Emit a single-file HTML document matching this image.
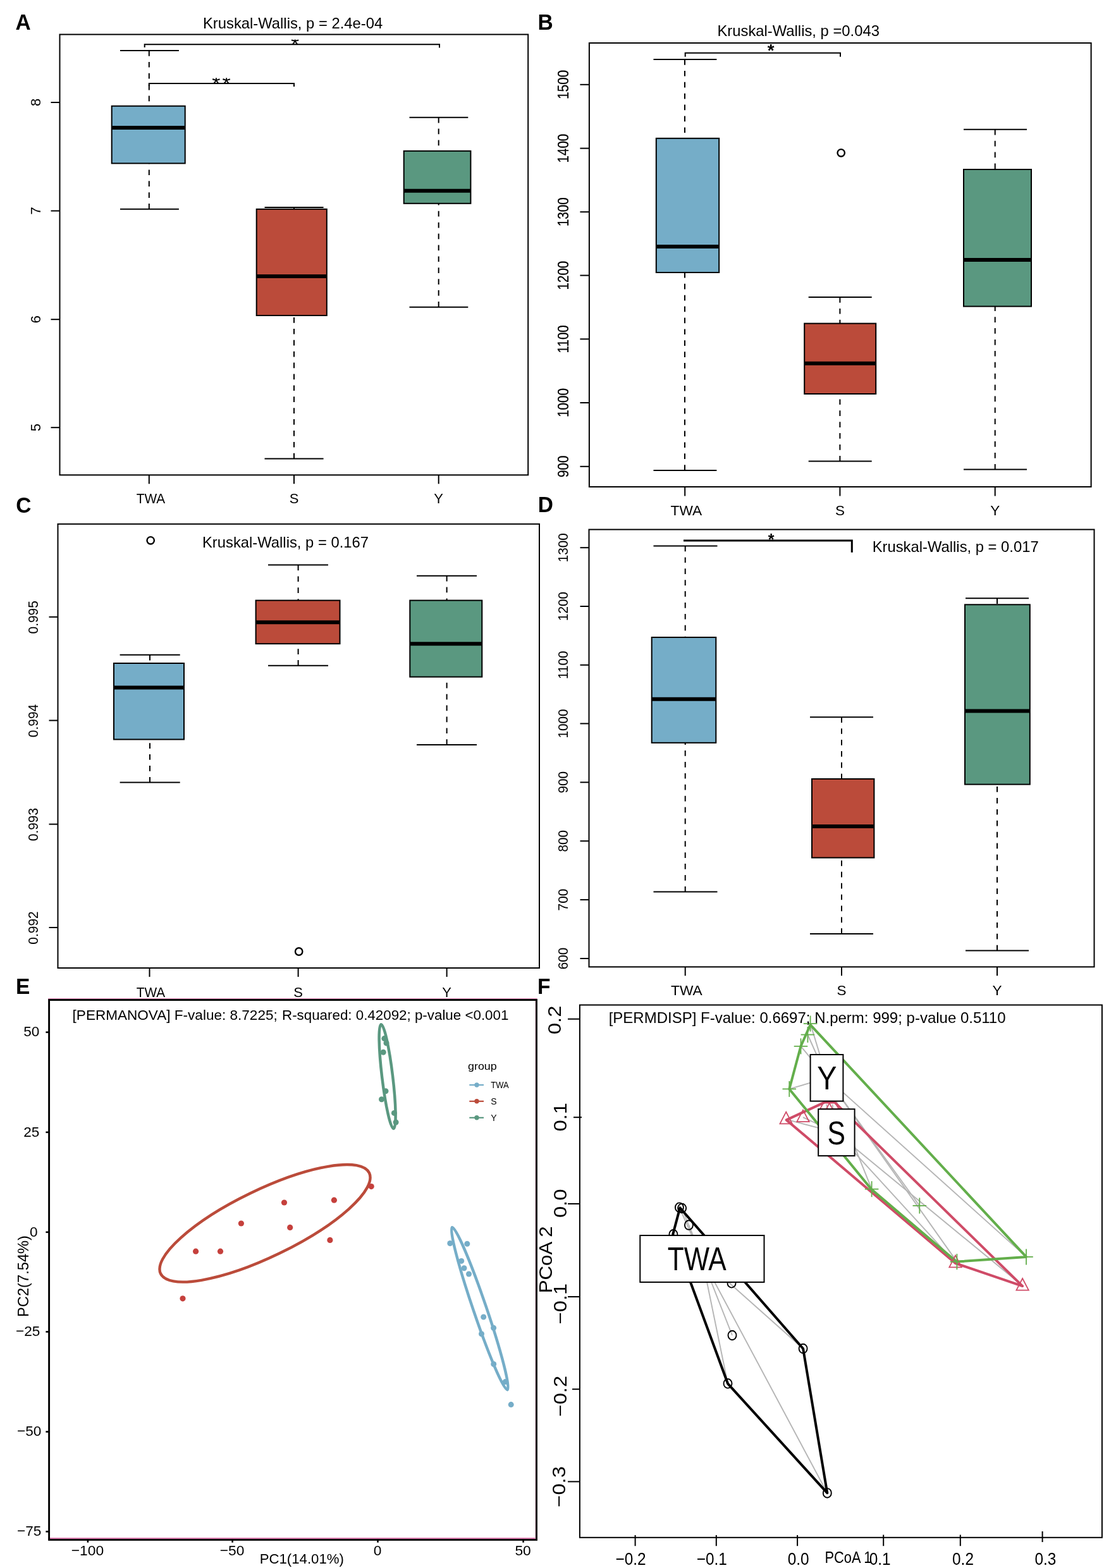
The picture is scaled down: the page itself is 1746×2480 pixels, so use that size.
<!DOCTYPE html>
<html lang="en"><head><meta charset="utf-8"><title>Figure: alpha and beta diversity</title>
<style>
html,body{margin:0;padding:0;background:#fff;}
body{width:1746px;height:2480px;overflow:hidden;}
svg{display:block;font-family:"Liberation Sans", Arial, Helvetica, sans-serif;}
text{font-kerning:normal;}
</style></head><body>
<svg width="1746" height="2480" viewBox="0 0 1746 2480">
<rect x="0" y="0" width="1746" height="2480" fill="#ffffff"/>
<rect x="94.5" y="54.5" width="740.7" height="696.8" fill="none" stroke="#000" stroke-width="2" />
<line x1="80.5" y1="162" x2="94.5" y2="162" stroke="#000" stroke-width="2" />
<text transform="translate(64 162) rotate(-90) scale(0.97 1)" font-size="22.7" text-anchor="middle" font-weight="normal" fill="#000" >8</text>
<line x1="80.5" y1="333.5" x2="94.5" y2="333.5" stroke="#000" stroke-width="2" />
<text transform="translate(64 333.5) rotate(-90) scale(0.97 1)" font-size="22.7" text-anchor="middle" font-weight="normal" fill="#000" >7</text>
<line x1="80.5" y1="505.2" x2="94.5" y2="505.2" stroke="#000" stroke-width="2" />
<text transform="translate(64 505.2) rotate(-90) scale(0.97 1)" font-size="22.7" text-anchor="middle" font-weight="normal" fill="#000" >6</text>
<line x1="80.5" y1="676.2" x2="94.5" y2="676.2" stroke="#000" stroke-width="2" />
<text transform="translate(64 676.2) rotate(-90) scale(0.97 1)" font-size="22.7" text-anchor="middle" font-weight="normal" fill="#000" >5</text>
<line x1="235.8" y1="751.3" x2="235.8" y2="765.3" stroke="#000" stroke-width="2" />
<text transform="translate(238.4 796) scale(0.947 1)" font-size="22" text-anchor="middle" font-weight="normal" fill="#000" >TWA</text>
<line x1="465" y1="751.3" x2="465" y2="765.3" stroke="#000" stroke-width="2" />
<text x="465" y="796" font-size="22" text-anchor="middle" font-weight="normal" fill="#000" >S</text>
<line x1="693.7" y1="751.3" x2="693.7" y2="765.3" stroke="#000" stroke-width="2" />
<text x="693.7" y="796" font-size="22" text-anchor="middle" font-weight="normal" fill="#000" >Y</text>
<text x="321" y="44.8" font-size="23.8" text-anchor="start" font-weight="normal" fill="#000" >Kruskal-Wallis, p = 2.4e-04</text>
<line x1="235.8" y1="80" x2="235.8" y2="167.7" stroke="#000" stroke-width="2" stroke-dasharray="8.7 9.2"/>
<line x1="235.8" y1="330.8" x2="235.8" y2="258.4" stroke="#000" stroke-width="2" stroke-dasharray="8.7 9.2"/>
<line x1="190" y1="80" x2="282.9" y2="80" stroke="#000" stroke-width="2" />
<line x1="190" y1="330.8" x2="282.9" y2="330.8" stroke="#000" stroke-width="2" />
<rect x="176.7" y="167.7" width="116.0" height="90.7" fill="#75adc8" stroke="#000" stroke-width="2" />
<line x1="176.7" y1="202" x2="292.7" y2="202" stroke="#000" stroke-width="6" />
<line x1="465" y1="328" x2="465" y2="330.8" stroke="#000" stroke-width="2" stroke-dasharray="8.7 9.2"/>
<line x1="465" y1="725.5" x2="465" y2="499" stroke="#000" stroke-width="2" stroke-dasharray="8.7 9.2"/>
<line x1="418.5" y1="328" x2="511.6" y2="328" stroke="#000" stroke-width="2" />
<line x1="418.5" y1="725.5" x2="511.6" y2="725.5" stroke="#000" stroke-width="2" />
<rect x="405.7" y="330.8" width="111.1" height="168.2" fill="#bb4b3a" stroke="#000" stroke-width="2" />
<line x1="405.7" y1="436.9" x2="516.8" y2="436.9" stroke="#000" stroke-width="6" />
<line x1="693.7" y1="185.7" x2="693.7" y2="238.8" stroke="#000" stroke-width="2" stroke-dasharray="8.7 9.2"/>
<line x1="693.7" y1="485.7" x2="693.7" y2="321.8" stroke="#000" stroke-width="2" stroke-dasharray="8.7 9.2"/>
<line x1="647.5" y1="185.7" x2="740.3" y2="185.7" stroke="#000" stroke-width="2" />
<line x1="647.5" y1="485.7" x2="740.3" y2="485.7" stroke="#000" stroke-width="2" />
<rect x="638.7" y="238.8" width="105.7" height="83.0" fill="#5a9880" stroke="#000" stroke-width="2" />
<line x1="638.7" y1="301.7" x2="744.4" y2="301.7" stroke="#000" stroke-width="6" />
<polyline points="228.7,75 228.7,70.2 695,70.2 695,75.5" fill="none" stroke="#000" stroke-width="2"/>
<polyline points="235.8,136 235.8,132 465,132 465,137" fill="none" stroke="#000" stroke-width="2"/>
<clipPath id="c36"><rect x="406.5" y="62.6" width="120" height="8.6"/></clipPath>
<g clip-path="url(#c36)">
<text x="466.5" y="82.26" font-size="34" text-anchor="middle" font-weight="normal" fill="#000" >*</text>
</g>
<clipPath id="c40"><rect x="290.0" y="123.2" width="120" height="9.8"/></clipPath>
<g clip-path="url(#c40)">
<text x="351.4" y="144.06" font-size="34" text-anchor="middle" font-weight="normal" fill="#000" letter-spacing="2.8">**</text>
</g>
<rect x="931.9" y="68" width="793.7" height="702" fill="none" stroke="#000" stroke-width="2" />
<line x1="917.4" y1="133.8" x2="931.9" y2="133.8" stroke="#000" stroke-width="2" />
<text transform="translate(899 133.8) rotate(-90) scale(0.85 1)" font-size="24.2" text-anchor="middle" font-weight="normal" fill="#000" stroke="#000" stroke-width="0.25">1500</text>
<line x1="917.4" y1="234.6" x2="931.9" y2="234.6" stroke="#000" stroke-width="2" />
<text transform="translate(899 234.6) rotate(-90) scale(0.85 1)" font-size="24.2" text-anchor="middle" font-weight="normal" fill="#000" stroke="#000" stroke-width="0.25">1400</text>
<line x1="917.4" y1="335.2" x2="931.9" y2="335.2" stroke="#000" stroke-width="2" />
<text transform="translate(899 335.2) rotate(-90) scale(0.85 1)" font-size="24.2" text-anchor="middle" font-weight="normal" fill="#000" stroke="#000" stroke-width="0.25">1300</text>
<line x1="917.4" y1="435.6" x2="931.9" y2="435.6" stroke="#000" stroke-width="2" />
<text transform="translate(899 435.6) rotate(-90) scale(0.85 1)" font-size="24.2" text-anchor="middle" font-weight="normal" fill="#000" stroke="#000" stroke-width="0.25">1200</text>
<line x1="917.4" y1="536.3" x2="931.9" y2="536.3" stroke="#000" stroke-width="2" />
<text transform="translate(899 536.3) rotate(-90) scale(0.85 1)" font-size="24.2" text-anchor="middle" font-weight="normal" fill="#000" stroke="#000" stroke-width="0.25">1100</text>
<line x1="917.4" y1="637" x2="931.9" y2="637" stroke="#000" stroke-width="2" />
<text transform="translate(899 637) rotate(-90) scale(0.85 1)" font-size="24.2" text-anchor="middle" font-weight="normal" fill="#000" stroke="#000" stroke-width="0.25">1000</text>
<line x1="917.4" y1="737.8" x2="931.9" y2="737.8" stroke="#000" stroke-width="2" />
<text transform="translate(899 737.8) rotate(-90) scale(0.85 1)" font-size="24.2" text-anchor="middle" font-weight="normal" fill="#000" stroke="#000" stroke-width="0.25">900</text>
<line x1="1083.2" y1="770" x2="1083.2" y2="784.5" stroke="#000" stroke-width="2" />
<text transform="translate(1085.4 815) scale(1.01 1)" font-size="22.5" text-anchor="middle" font-weight="normal" fill="#000" >TWA</text>
<line x1="1328.4" y1="770" x2="1328.4" y2="784.5" stroke="#000" stroke-width="2" />
<text x="1328.4" y="815" font-size="22.5" text-anchor="middle" font-weight="normal" fill="#000" >S</text>
<line x1="1573.7" y1="770" x2="1573.7" y2="784.5" stroke="#000" stroke-width="2" />
<text x="1573.7" y="815" font-size="22.5" text-anchor="middle" font-weight="normal" fill="#000" >Y</text>
<text x="1134.5" y="56.7" font-size="23.8" text-anchor="start" font-weight="normal" fill="#000" >Kruskal-Wallis, p =0.043</text>
<line x1="1083" y1="94" x2="1083" y2="218.8" stroke="#000" stroke-width="2" stroke-dasharray="8.7 9.2"/>
<line x1="1083" y1="743.9" x2="1083" y2="431" stroke="#000" stroke-width="2" stroke-dasharray="8.7 9.2"/>
<line x1="1033.5" y1="94" x2="1133.4" y2="94" stroke="#000" stroke-width="2" />
<line x1="1033.5" y1="743.9" x2="1133.4" y2="743.9" stroke="#000" stroke-width="2" />
<rect x="1037.8" y="218.8" width="99.4" height="212.2" fill="#75adc8" stroke="#000" stroke-width="2" />
<line x1="1037.8" y1="390" x2="1137.2" y2="390" stroke="#000" stroke-width="6" />
<line x1="1328.4" y1="470" x2="1328.4" y2="511.6" stroke="#000" stroke-width="2" stroke-dasharray="8.7 9.2"/>
<line x1="1328.4" y1="729.6" x2="1328.4" y2="623" stroke="#000" stroke-width="2" stroke-dasharray="8.7 9.2"/>
<line x1="1278.7" y1="470" x2="1378.7" y2="470" stroke="#000" stroke-width="2" />
<line x1="1278.7" y1="729.6" x2="1378.7" y2="729.6" stroke="#000" stroke-width="2" />
<rect x="1272.2" y="511.6" width="113.0" height="111.4" fill="#bb4b3a" stroke="#000" stroke-width="2" />
<line x1="1272.2" y1="574.8" x2="1385.2" y2="574.8" stroke="#000" stroke-width="6" />
<line x1="1573.7" y1="204.8" x2="1573.7" y2="268" stroke="#000" stroke-width="2" stroke-dasharray="8.7 9.2"/>
<line x1="1573.7" y1="742.6" x2="1573.7" y2="484.6" stroke="#000" stroke-width="2" stroke-dasharray="8.7 9.2"/>
<line x1="1524" y1="204.8" x2="1624" y2="204.8" stroke="#000" stroke-width="2" />
<line x1="1524" y1="742.6" x2="1624" y2="742.6" stroke="#000" stroke-width="2" />
<rect x="1524" y="268" width="107" height="216.6" fill="#5a9880" stroke="#000" stroke-width="2" />
<line x1="1524" y1="411" x2="1631" y2="411" stroke="#000" stroke-width="6" />
<circle cx="1330.2" cy="241.8" r="5.7" fill="none" stroke="#000" stroke-width="2.4"/>
<polyline points="1083.7,89.7 1083.7,83.7 1329,83.7 1329,89.7" fill="none" stroke="#000" stroke-width="2"/>
<text x="1219.1" y="89.4" font-size="27.6" text-anchor="middle" font-weight="bold" fill="#000" >*</text>
<rect x="91.5" y="828.8" width="761.5" height="702.2" fill="none" stroke="#000" stroke-width="2" />
<line x1="77.5" y1="975.8" x2="91.5" y2="975.8" stroke="#000" stroke-width="2" />
<text transform="translate(59.8 976.3) rotate(-90) scale(0.925 1)" font-size="22.6" text-anchor="middle" font-weight="normal" fill="#000" >0.995</text>
<line x1="77.5" y1="1139.5" x2="91.5" y2="1139.5" stroke="#000" stroke-width="2" />
<text transform="translate(59.8 1140.0) rotate(-90) scale(0.925 1)" font-size="22.6" text-anchor="middle" font-weight="normal" fill="#000" >0.994</text>
<line x1="77.5" y1="1303.6" x2="91.5" y2="1303.6" stroke="#000" stroke-width="2" />
<text transform="translate(59.8 1304.1) rotate(-90) scale(0.925 1)" font-size="22.6" text-anchor="middle" font-weight="normal" fill="#000" >0.993</text>
<line x1="77.5" y1="1467.0" x2="91.5" y2="1467.0" stroke="#000" stroke-width="2" />
<text transform="translate(59.8 1467.5) rotate(-90) scale(0.925 1)" font-size="22.6" text-anchor="middle" font-weight="normal" fill="#000" >0.992</text>
<line x1="236.5" y1="1531" x2="236.5" y2="1545" stroke="#000" stroke-width="2" />
<text transform="translate(238.5 1577) scale(0.947 1)" font-size="22" text-anchor="middle" font-weight="normal" fill="#000" >TWA</text>
<line x1="471.6" y1="1531" x2="471.6" y2="1545" stroke="#000" stroke-width="2" />
<text x="471.6" y="1577" font-size="22" text-anchor="middle" font-weight="normal" fill="#000" >S</text>
<line x1="706.6" y1="1531" x2="706.6" y2="1545" stroke="#000" stroke-width="2" />
<text x="706.6" y="1577" font-size="22" text-anchor="middle" font-weight="normal" fill="#000" >Y</text>
<text x="320" y="866.4" font-size="23.8" text-anchor="start" font-weight="normal" fill="#000" >Kruskal-Wallis, p = 0.167</text>
<line x1="237" y1="1035.8" x2="237" y2="1049" stroke="#000" stroke-width="2" stroke-dasharray="8.7 9.2"/>
<line x1="237" y1="1237.6" x2="237" y2="1169.5" stroke="#000" stroke-width="2" stroke-dasharray="8.7 9.2"/>
<line x1="189.6" y1="1035.8" x2="284.7" y2="1035.8" stroke="#000" stroke-width="2" />
<line x1="189.6" y1="1237.6" x2="284.7" y2="1237.6" stroke="#000" stroke-width="2" />
<rect x="180" y="1049" width="111" height="120.5" fill="#75adc8" stroke="#000" stroke-width="2" />
<line x1="180" y1="1087.6" x2="291" y2="1087.6" stroke="#000" stroke-width="6" />
<line x1="471.6" y1="893.5" x2="471.6" y2="949.6" stroke="#000" stroke-width="2" stroke-dasharray="8.7 9.2"/>
<line x1="471.6" y1="1052.8" x2="471.6" y2="1018.2" stroke="#000" stroke-width="2" stroke-dasharray="8.7 9.2"/>
<line x1="424" y1="893.5" x2="519" y2="893.5" stroke="#000" stroke-width="2" />
<line x1="424" y1="1052.8" x2="519" y2="1052.8" stroke="#000" stroke-width="2" />
<rect x="404.6" y="949.6" width="132.9" height="68.6" fill="#bb4b3a" stroke="#000" stroke-width="2" />
<line x1="404.6" y1="984.2" x2="537.5" y2="984.2" stroke="#000" stroke-width="6" />
<line x1="706.6" y1="910.7" x2="706.6" y2="949.6" stroke="#000" stroke-width="2" stroke-dasharray="8.7 9.2"/>
<line x1="706.6" y1="1178" x2="706.6" y2="1070.6" stroke="#000" stroke-width="2" stroke-dasharray="8.7 9.2"/>
<line x1="659" y1="910.7" x2="754" y2="910.7" stroke="#000" stroke-width="2" />
<line x1="659" y1="1178" x2="754" y2="1178" stroke="#000" stroke-width="2" />
<rect x="648.3" y="949.6" width="114.0" height="121.0" fill="#5a9880" stroke="#000" stroke-width="2" />
<line x1="648.3" y1="1018.2" x2="762.3" y2="1018.2" stroke="#000" stroke-width="6" />
<circle cx="238.2" cy="854.8" r="5.7" fill="none" stroke="#000" stroke-width="2.4"/>
<circle cx="472.7" cy="1505" r="5.7" fill="none" stroke="#000" stroke-width="2.4"/>
<rect x="931.5" y="837.5" width="799.0" height="691.8" fill="none" stroke="#000" stroke-width="2" />
<line x1="917.5" y1="866.2" x2="931.5" y2="866.2" stroke="#000" stroke-width="2" />
<text transform="translate(898.4 866.2) rotate(-90) scale(0.917 1)" font-size="22.6" text-anchor="middle" font-weight="normal" fill="#000" >1300</text>
<line x1="917.5" y1="958.99" x2="931.5" y2="958.99" stroke="#000" stroke-width="2" />
<text transform="translate(898.4 958.99) rotate(-90) scale(0.917 1)" font-size="22.6" text-anchor="middle" font-weight="normal" fill="#000" >1200</text>
<line x1="917.5" y1="1051.77" x2="931.5" y2="1051.77" stroke="#000" stroke-width="2" />
<text transform="translate(898.4 1051.77) rotate(-90) scale(0.917 1)" font-size="22.6" text-anchor="middle" font-weight="normal" fill="#000" >1100</text>
<line x1="917.5" y1="1144.45" x2="931.5" y2="1144.45" stroke="#000" stroke-width="2" />
<text transform="translate(898.4 1144.45) rotate(-90) scale(0.917 1)" font-size="22.6" text-anchor="middle" font-weight="normal" fill="#000" >1000</text>
<line x1="917.5" y1="1237.33" x2="931.5" y2="1237.33" stroke="#000" stroke-width="2" />
<text transform="translate(898.4 1237.33) rotate(-90) scale(0.917 1)" font-size="22.6" text-anchor="middle" font-weight="normal" fill="#000" >900</text>
<line x1="917.5" y1="1330.22" x2="931.5" y2="1330.22" stroke="#000" stroke-width="2" />
<text transform="translate(898.4 1330.22) rotate(-90) scale(0.917 1)" font-size="22.6" text-anchor="middle" font-weight="normal" fill="#000" >800</text>
<line x1="917.5" y1="1423.1" x2="931.5" y2="1423.1" stroke="#000" stroke-width="2" />
<text transform="translate(898.4 1423.1) rotate(-90) scale(0.917 1)" font-size="22.6" text-anchor="middle" font-weight="normal" fill="#000" >700</text>
<line x1="917.5" y1="1516.0" x2="931.5" y2="1516.0" stroke="#000" stroke-width="2" />
<text transform="translate(898.4 1516.0) rotate(-90) scale(0.917 1)" font-size="22.6" text-anchor="middle" font-weight="normal" fill="#000" >600</text>
<line x1="1083.7" y1="1529.3" x2="1083.7" y2="1543.3" stroke="#000" stroke-width="2" />
<text transform="translate(1085.9 1574) scale(1.01 1)" font-size="22.5" text-anchor="middle" font-weight="normal" fill="#000" >TWA</text>
<line x1="1331" y1="1529.3" x2="1331" y2="1543.3" stroke="#000" stroke-width="2" />
<text x="1331" y="1574" font-size="22.5" text-anchor="middle" font-weight="normal" fill="#000" >S</text>
<line x1="1577" y1="1529.3" x2="1577" y2="1543.3" stroke="#000" stroke-width="2" />
<text x="1577" y="1574" font-size="22.5" text-anchor="middle" font-weight="normal" fill="#000" >Y</text>
<text x="1379.7" y="873.1" font-size="23.8" text-anchor="start" font-weight="normal" fill="#000" >Kruskal-Wallis, p = 0.017</text>
<line x1="1083.7" y1="863.5" x2="1083.7" y2="1008.03" stroke="#000" stroke-width="2" stroke-dasharray="8.7 9.2"/>
<line x1="1083.7" y1="1410.61" x2="1083.7" y2="1174.81" stroke="#000" stroke-width="2" stroke-dasharray="8.7 9.2"/>
<line x1="1033.5" y1="863.5" x2="1134.5" y2="863.5" stroke="#000" stroke-width="2" />
<line x1="1033.5" y1="1410.61" x2="1134.5" y2="1410.61" stroke="#000" stroke-width="2" />
<rect x="1030.7" y="1008.03" width="101.6" height="166.78" fill="#75adc8" stroke="#000" stroke-width="2" />
<line x1="1030.7" y1="1105.7" x2="1132.3" y2="1105.7" stroke="#000" stroke-width="6" />
<line x1="1331" y1="1134.27" x2="1331" y2="1231.94" stroke="#000" stroke-width="2" stroke-dasharray="8.7 9.2"/>
<line x1="1331" y1="1477.03" x2="1331" y2="1356.58" stroke="#000" stroke-width="2" stroke-dasharray="8.7 9.2"/>
<line x1="1281" y1="1134.27" x2="1381" y2="1134.27" stroke="#000" stroke-width="2" />
<line x1="1281" y1="1477.03" x2="1381" y2="1477.03" stroke="#000" stroke-width="2" />
<rect x="1284" y="1231.94" width="98.4" height="124.64" fill="#bb4b3a" stroke="#000" stroke-width="2" />
<line x1="1284" y1="1306.95" x2="1382.4" y2="1306.95" stroke="#000" stroke-width="6" />
<line x1="1577" y1="946.3" x2="1577" y2="956.29" stroke="#000" stroke-width="2" stroke-dasharray="8.7 9.2"/>
<line x1="1577" y1="1503.4" x2="1577" y2="1240.63" stroke="#000" stroke-width="2" stroke-dasharray="8.7 9.2"/>
<line x1="1527" y1="946.3" x2="1627" y2="946.3" stroke="#000" stroke-width="2" />
<line x1="1527" y1="1503.4" x2="1627" y2="1503.4" stroke="#000" stroke-width="2" />
<rect x="1526" y="956.29" width="102.8" height="284.34" fill="#5a9880" stroke="#000" stroke-width="2" />
<line x1="1526" y1="1124.48" x2="1628.8" y2="1124.48" stroke="#000" stroke-width="6" />
<polyline points="1081,855 1347.3,855 1347.3,873.7" fill="none" stroke="#000" stroke-width="3"/>
<text x="1219.7" y="861.5" font-size="25" text-anchor="middle" font-weight="bold" fill="#000" >*</text>
<line x1="76.1" y1="1580.4" x2="849.5" y2="1580.4" stroke="#e07fb3" stroke-width="3" />
<line x1="76.1" y1="2433.4" x2="849.5" y2="2433.4" stroke="#e07fb3" stroke-width="3" />
<line x1="846.9" y1="1581" x2="846.9" y2="2434" stroke="#f4c6dc" stroke-width="1.2" />
<rect x="77.6" y="1581.5" width="770.9" height="853.9" fill="none" stroke="#000" stroke-width="2.9" />
<text x="114.6" y="1613.2" font-size="22.55" text-anchor="start" font-weight="normal" fill="#000" >[PERMANOVA] F-value: 8.7225;</text>
<text x="446" y="1613.2" font-size="22.35" text-anchor="start" font-weight="normal" fill="#000" >R-squared: 0.42092; p-value &lt;0.001</text>
<line x1="72.4" y1="1632.6" x2="77.6" y2="1632.6" stroke="#000" stroke-width="2.6" />
<text x="62.3" y="1639.4" font-size="22.6" text-anchor="end" font-weight="normal" fill="#000" >50</text>
<line x1="72.4" y1="1790.8" x2="77.6" y2="1790.8" stroke="#000" stroke-width="2.6" />
<text x="62.3" y="1797.6" font-size="22.6" text-anchor="end" font-weight="normal" fill="#000" >25</text>
<line x1="72.4" y1="1948.8" x2="77.6" y2="1948.8" stroke="#000" stroke-width="2.6" />
<text x="59.6" y="1955.6" font-size="22.6" text-anchor="end" font-weight="normal" fill="#000" >0</text>
<line x1="72.4" y1="2106.4" x2="77.6" y2="2106.4" stroke="#000" stroke-width="2.6" />
<text x="63.4" y="2113.2" font-size="22.6" text-anchor="end" font-weight="normal" fill="#000" >−25</text>
<line x1="72.4" y1="2264.5" x2="77.6" y2="2264.5" stroke="#000" stroke-width="2.6" />
<text x="65.4" y="2271.3" font-size="22.6" text-anchor="end" font-weight="normal" fill="#000" >−50</text>
<line x1="72.4" y1="2422.4" x2="77.6" y2="2422.4" stroke="#000" stroke-width="2.6" />
<text x="65.4" y="2429.2" font-size="22.6" text-anchor="end" font-weight="normal" fill="#000" >−75</text>
<line x1="138.9" y1="2435.4" x2="138.9" y2="2439.7" stroke="#000" stroke-width="2.6" />
<text x="138.4" y="2460.3" font-size="22.8" text-anchor="middle" font-weight="normal" fill="#000" >−100</text>
<line x1="367.6" y1="2435.4" x2="367.6" y2="2439.7" stroke="#000" stroke-width="2.6" />
<text x="367.1" y="2460.3" font-size="22.8" text-anchor="middle" font-weight="normal" fill="#000" >−50</text>
<line x1="597.5" y1="2435.4" x2="597.5" y2="2439.7" stroke="#000" stroke-width="2.6" />
<text x="597.0" y="2460.3" font-size="22.8" text-anchor="middle" font-weight="normal" fill="#000" >0</text>
<line x1="827.6" y1="2435.4" x2="827.6" y2="2439.7" stroke="#000" stroke-width="2.6" />
<text x="827.1" y="2460.3" font-size="22.8" text-anchor="middle" font-weight="normal" fill="#000" >50</text>
<text x="477.3" y="2473" font-size="22.2" text-anchor="middle" font-weight="normal" fill="#000" >PC1(14.01%)</text>
<text transform="translate(45 2018.5) rotate(-90)" font-size="23.7" text-anchor="middle" font-weight="normal" fill="#000" >PC2(7.54%)</text>
<ellipse cx="419" cy="1934.8" rx="183.2" ry="52.8" transform="rotate(-25.8 419 1934.8)" fill="none" stroke="#bb4b3a" stroke-width="4.4"/>
<circle cx="587.2" cy="1876.6" r="4.6" fill="#c5403c" stroke="none" stroke-width="0"/>
<circle cx="528.4" cy="1898.2" r="4.6" fill="#c5403c" stroke="none" stroke-width="0"/>
<circle cx="449.5" cy="1902" r="4.6" fill="#c5403c" stroke="none" stroke-width="0"/>
<circle cx="381.4" cy="1935" r="4.6" fill="#c5403c" stroke="none" stroke-width="0"/>
<circle cx="458.7" cy="1941.4" r="4.6" fill="#c5403c" stroke="none" stroke-width="0"/>
<circle cx="521.9" cy="1961.4" r="4.6" fill="#c5403c" stroke="none" stroke-width="0"/>
<circle cx="309.6" cy="1979.2" r="4.6" fill="#c5403c" stroke="none" stroke-width="0"/>
<circle cx="348.5" cy="1979.2" r="4.6" fill="#c5403c" stroke="none" stroke-width="0"/>
<circle cx="289" cy="2053.8" r="4.6" fill="#c5403c" stroke="none" stroke-width="0"/>
<circle cx="607.8" cy="1642.6" r="4.5" fill="#5a9880" stroke="none" stroke-width="0"/>
<circle cx="611" cy="1649.7" r="4.5" fill="#5a9880" stroke="none" stroke-width="0"/>
<circle cx="606.2" cy="1664.3" r="4.5" fill="#5a9880" stroke="none" stroke-width="0"/>
<circle cx="610" cy="1725.8" r="4.5" fill="#5a9880" stroke="none" stroke-width="0"/>
<circle cx="603.5" cy="1738.8" r="4.5" fill="#5a9880" stroke="none" stroke-width="0"/>
<circle cx="623.4" cy="1760.4" r="4.5" fill="#5a9880" stroke="none" stroke-width="0"/>
<circle cx="626.1" cy="1775" r="4.5" fill="#5a9880" stroke="none" stroke-width="0"/>
<circle cx="711.8" cy="1966.5" r="4.5" fill="#75adc8" stroke="none" stroke-width="0"/>
<circle cx="738.8" cy="1967.2" r="4.5" fill="#75adc8" stroke="none" stroke-width="0"/>
<circle cx="729.7" cy="1994.4" r="4.5" fill="#75adc8" stroke="none" stroke-width="0"/>
<circle cx="734" cy="2005.7" r="4.5" fill="#75adc8" stroke="none" stroke-width="0"/>
<circle cx="741.5" cy="2015" r="4.5" fill="#75adc8" stroke="none" stroke-width="0"/>
<circle cx="764.7" cy="2083" r="4.5" fill="#75adc8" stroke="none" stroke-width="0"/>
<circle cx="780.6" cy="2100.2" r="4.5" fill="#75adc8" stroke="none" stroke-width="0"/>
<circle cx="761.5" cy="2109.7" r="4.5" fill="#75adc8" stroke="none" stroke-width="0"/>
<circle cx="780.7" cy="2157.5" r="4.5" fill="#75adc8" stroke="none" stroke-width="0"/>
<circle cx="799.1" cy="2185.6" r="4.5" fill="#75adc8" stroke="none" stroke-width="0"/>
<circle cx="808.2" cy="2221.6" r="4.5" fill="#75adc8" stroke="none" stroke-width="0"/>
<ellipse cx="612.6" cy="1702.7" rx="8.5" ry="83" transform="rotate(-6.85 612.6 1702.7)" fill="none" stroke="#5a9880" stroke-width="4.5"/>
<ellipse cx="758.8" cy="2069.7" rx="10.4" ry="135.7" transform="rotate(-18.8 758.8 2069.7)" fill="none" stroke="#75adc8" stroke-width="4.5"/>
<text transform="translate(740 1692) scale(1.085 1)" font-size="16.5" text-anchor="start" font-weight="normal" fill="#000" >group</text>
<line x1="742.3" y1="1716" x2="765" y2="1716" stroke="#75adc8" stroke-width="2.2" />
<circle cx="754" cy="1716" r="3.7" fill="#75adc8" stroke="none" stroke-width="0"/>
<text transform="translate(776.3 1721) scale(0.93 1)" font-size="14" text-anchor="start" font-weight="normal" fill="#000" >TWA</text>
<line x1="742.3" y1="1741.8" x2="765" y2="1741.8" stroke="#bb4b3a" stroke-width="2.2" />
<circle cx="754" cy="1741.8" r="3.7" fill="#bb4b3a" stroke="none" stroke-width="0"/>
<text x="776.3" y="1746.8" font-size="14" text-anchor="start" font-weight="normal" fill="#000" >S</text>
<line x1="742.3" y1="1767.8" x2="765" y2="1767.8" stroke="#5a9880" stroke-width="2.2" />
<circle cx="754" cy="1767.8" r="3.7" fill="#5a9880" stroke="none" stroke-width="0"/>
<text x="776.3" y="1772.8" font-size="14" text-anchor="start" font-weight="normal" fill="#000" >Y</text>
<line x1="1307.8" y1="1704.9" x2="1281.6" y2="1619" stroke="#b5b5b5" stroke-width="1.9" />
<line x1="1307.8" y1="1704.9" x2="1277.4" y2="1636.5" stroke="#b5b5b5" stroke-width="1.9" />
<line x1="1307.8" y1="1704.9" x2="1266.5" y2="1654.8" stroke="#b5b5b5" stroke-width="1.9" />
<line x1="1307.8" y1="1704.9" x2="1248.3" y2="1722.4" stroke="#b5b5b5" stroke-width="1.9" />
<line x1="1307.8" y1="1704.9" x2="1378.6" y2="1880.7" stroke="#b5b5b5" stroke-width="1.9" />
<line x1="1307.8" y1="1704.9" x2="1454.3" y2="1907" stroke="#b5b5b5" stroke-width="1.9" />
<line x1="1307.8" y1="1704.9" x2="1513.4" y2="1995.6" stroke="#b5b5b5" stroke-width="1.9" />
<line x1="1307.8" y1="1704.9" x2="1623" y2="1987.9" stroke="#b5b5b5" stroke-width="1.9" />
<line x1="1322.6" y1="1791.4" x2="1243.2" y2="1770.3" stroke="#b5b5b5" stroke-width="1.9" />
<line x1="1322.6" y1="1791.4" x2="1270" y2="1767.2" stroke="#b5b5b5" stroke-width="1.9" />
<line x1="1322.6" y1="1791.4" x2="1306.8" y2="1746.9" stroke="#b5b5b5" stroke-width="1.9" />
<line x1="1322.6" y1="1791.4" x2="1316.6" y2="1746.9" stroke="#b5b5b5" stroke-width="1.9" />
<line x1="1322.6" y1="1791.4" x2="1511" y2="1997.3" stroke="#b5b5b5" stroke-width="1.9" />
<line x1="1322.6" y1="1791.4" x2="1617.1" y2="2033.6" stroke="#b5b5b5" stroke-width="1.9" />
<line x1="1110.4" y1="1990.8" x2="1074.4" y2="1909.7" stroke="#b5b5b5" stroke-width="1.9" />
<line x1="1110.4" y1="1990.8" x2="1078.6" y2="1911" stroke="#b5b5b5" stroke-width="1.9" />
<line x1="1110.4" y1="1990.8" x2="1089.4" y2="1937.6" stroke="#b5b5b5" stroke-width="1.9" />
<line x1="1110.4" y1="1990.8" x2="1064.9" y2="1952.3" stroke="#b5b5b5" stroke-width="1.9" />
<line x1="1110.4" y1="1990.8" x2="1157" y2="2029.3" stroke="#b5b5b5" stroke-width="1.9" />
<line x1="1110.4" y1="1990.8" x2="1158" y2="2112" stroke="#b5b5b5" stroke-width="1.9" />
<line x1="1110.4" y1="1990.8" x2="1270.1" y2="2133" stroke="#b5b5b5" stroke-width="1.9" />
<line x1="1110.4" y1="1990.8" x2="1151" y2="2188.3" stroke="#b5b5b5" stroke-width="1.9" />
<line x1="1110.4" y1="1990.8" x2="1308.3" y2="2361.4" stroke="#b5b5b5" stroke-width="1.9" />
<polygon points="1075.4,1910.2 1270.1,2133 1308.3,2361.4 1151,2188.3 1064.2,1952.3" fill="none" stroke="#000" stroke-width="4" stroke-linejoin="round"/>
<polygon points="1243.7,1771.4 1304.3,1743.4 1320,1743.4 1617.1,2034.1 1511,1998" fill="none" stroke="#cf4b67" stroke-width="4" stroke-linejoin="round"/>
<polygon points="1281.6,1620.8 1266.5,1654.8 1248.3,1722.4 1377.9,1880.7 1512.7,1995.6 1623,1987.9" fill="none" stroke="#63ae4b" stroke-width="4" stroke-linejoin="round"/>
<ellipse cx="1074.4" cy="1909.7" rx="6.5" ry="7.3" fill="none" stroke="#000" stroke-width="1.9"/>
<ellipse cx="1078.6" cy="1911" rx="6.5" ry="7.3" fill="none" stroke="#000" stroke-width="1.9"/>
<ellipse cx="1089.4" cy="1937.6" rx="6.5" ry="7.3" fill="none" stroke="#000" stroke-width="1.9"/>
<ellipse cx="1064.9" cy="1952.3" rx="6.5" ry="7.3" fill="none" stroke="#000" stroke-width="1.9"/>
<ellipse cx="1157" cy="2029.3" rx="6.5" ry="7.3" fill="none" stroke="#000" stroke-width="1.9"/>
<ellipse cx="1158" cy="2112" rx="6.5" ry="7.3" fill="none" stroke="#000" stroke-width="1.9"/>
<ellipse cx="1270.1" cy="2133" rx="6.5" ry="7.3" fill="none" stroke="#000" stroke-width="1.9"/>
<ellipse cx="1151" cy="2188.3" rx="6.5" ry="7.3" fill="none" stroke="#000" stroke-width="1.9"/>
<ellipse cx="1308.3" cy="2361.4" rx="6.5" ry="7.3" fill="none" stroke="#000" stroke-width="1.9"/>
<polygon points="1243.2,1758.7 1252.9,1777.3 1233.5,1777.3" fill="none" stroke="#cf4b67" stroke-width="1.8"/>
<polygon points="1270,1755.6 1279.7,1774.2 1260.3,1774.2" fill="none" stroke="#cf4b67" stroke-width="1.8"/>
<polygon points="1306.8,1735.3 1316.5,1753.9 1297.1,1753.9" fill="none" stroke="#cf4b67" stroke-width="1.8"/>
<polygon points="1316.6,1735.3 1326.3,1753.9 1306.9,1753.9" fill="none" stroke="#cf4b67" stroke-width="1.8"/>
<polygon points="1511,1985.7 1520.7,2004.3 1501.3,2004.3" fill="none" stroke="#cf4b67" stroke-width="1.8"/>
<polygon points="1617.1,2022.0 1626.8,2040.6 1607.4,2040.6" fill="none" stroke="#cf4b67" stroke-width="1.8"/>
<line x1="1270.8" y1="1619" x2="1292.4" y2="1619" stroke="#63ae4b" stroke-width="1.8" />
<line x1="1281.6" y1="1606.5" x2="1281.6" y2="1631.5" stroke="#63ae4b" stroke-width="1.8" />
<line x1="1266.6" y1="1636.5" x2="1288.2" y2="1636.5" stroke="#63ae4b" stroke-width="1.8" />
<line x1="1277.4" y1="1624.0" x2="1277.4" y2="1649.0" stroke="#63ae4b" stroke-width="1.8" />
<line x1="1255.7" y1="1654.8" x2="1277.3" y2="1654.8" stroke="#63ae4b" stroke-width="1.8" />
<line x1="1266.5" y1="1642.3" x2="1266.5" y2="1667.3" stroke="#63ae4b" stroke-width="1.8" />
<line x1="1237.5" y1="1722.4" x2="1259.1" y2="1722.4" stroke="#63ae4b" stroke-width="1.8" />
<line x1="1248.3" y1="1709.9" x2="1248.3" y2="1734.9" stroke="#63ae4b" stroke-width="1.8" />
<line x1="1367.8" y1="1880.7" x2="1389.4" y2="1880.7" stroke="#63ae4b" stroke-width="1.8" />
<line x1="1378.6" y1="1868.2" x2="1378.6" y2="1893.2" stroke="#63ae4b" stroke-width="1.8" />
<line x1="1443.5" y1="1907" x2="1465.1" y2="1907" stroke="#63ae4b" stroke-width="1.8" />
<line x1="1454.3" y1="1894.5" x2="1454.3" y2="1919.5" stroke="#63ae4b" stroke-width="1.8" />
<line x1="1502.6" y1="1995.6" x2="1524.2" y2="1995.6" stroke="#63ae4b" stroke-width="1.8" />
<line x1="1513.4" y1="1983.1" x2="1513.4" y2="2008.1" stroke="#63ae4b" stroke-width="1.8" />
<line x1="1612.2" y1="1987.9" x2="1633.8" y2="1987.9" stroke="#63ae4b" stroke-width="1.8" />
<line x1="1623" y1="1975.4" x2="1623" y2="2000.4" stroke="#63ae4b" stroke-width="1.8" />
<rect x="1281.6" y="1668" width="51.8" height="73.6" fill="#fff" stroke="#000" stroke-width="2" />
<text transform="translate(1307.8 1723.1) scale(0.9 1)" font-size="52" text-anchor="middle" font-weight="normal" fill="#000" >Y</text>
<rect x="1294.2" y="1754.2" width="57.4" height="73.9" fill="#fff" stroke="#000" stroke-width="2" />
<text transform="translate(1322.6 1809.5) scale(0.82 1)" font-size="52" text-anchor="middle" font-weight="normal" fill="#000" >S</text>
<rect x="1012.3" y="1954" width="196.2" height="73.9" fill="#fff" stroke="#000" stroke-width="2" />
<text transform="translate(1102.2 2009.2) scale(0.82 1)" font-size="52" text-anchor="middle" font-weight="normal" fill="#000" >TWA</text>
<rect x="916.9" y="1589.5" width="826.0" height="842.3" fill="none" stroke="#000" stroke-width="2" />
<text x="962.7" y="1618" font-size="24" text-anchor="start" font-weight="normal" fill="#000" >[PERMDISP] F-value: 0.6697; N.perm: 999; p-value 0.5110</text>
<line x1="898" y1="1611.7" x2="916.9" y2="1611.7" stroke="#000" stroke-width="2" />
<text transform="translate(886.6 1613.4) rotate(-90) scale(1.127 1)" font-size="29" text-anchor="middle" font-weight="normal" fill="#000" >0.2</text>
<line x1="907" y1="1767.2" x2="920" y2="1767.2" stroke="#000" stroke-width="2" />
<text transform="translate(896 1766.7) rotate(-90) scale(1.127 1)" font-size="29" text-anchor="middle" font-weight="normal" fill="#000" >0.1</text>
<line x1="898" y1="1904" x2="916.9" y2="1904" stroke="#000" stroke-width="2" />
<text transform="translate(896 1903.4) rotate(-90) scale(1.127 1)" font-size="29" text-anchor="middle" font-weight="normal" fill="#000" >0.0</text>
<line x1="898" y1="2051" x2="916.9" y2="2051" stroke="#000" stroke-width="2" />
<text transform="translate(896 2062) rotate(-90) scale(1.127 1)" font-size="29" text-anchor="middle" font-weight="normal" fill="#000" >−0.1</text>
<line x1="905" y1="2197.2" x2="916.9" y2="2197.2" stroke="#000" stroke-width="2" />
<text transform="translate(896 2208.2) rotate(-90) scale(1.127 1)" font-size="29" text-anchor="middle" font-weight="normal" fill="#000" >−0.2</text>
<line x1="898" y1="2343.4" x2="916.9" y2="2343.4" stroke="#000" stroke-width="2" />
<text transform="translate(894 2351.4) rotate(-90) scale(1.127 1)" font-size="29" text-anchor="middle" font-weight="normal" fill="#000" >−0.3</text>
<line x1="1004.6" y1="2428" x2="1004.6" y2="2445.2" stroke="#000" stroke-width="2" />
<text transform="translate(997.5 2475.3) scale(0.877 1)" font-size="27.8" text-anchor="middle" font-weight="normal" fill="#000" >−0.2</text>
<line x1="1132.8" y1="2428" x2="1132.8" y2="2445.2" stroke="#000" stroke-width="2" />
<text transform="translate(1125.7 2475.3) scale(0.877 1)" font-size="27.8" text-anchor="middle" font-weight="normal" fill="#000" >−0.1</text>
<line x1="1261.1" y1="2428" x2="1261.1" y2="2445.2" stroke="#000" stroke-width="2" />
<text transform="translate(1262.6 2475.3) scale(0.877 1)" font-size="27.8" text-anchor="middle" font-weight="normal" fill="#000" >0.0</text>
<line x1="1397.2" y1="2427.5" x2="1397.2" y2="2445.2" stroke="#000" stroke-width="2" />
<text transform="translate(1391.6 2475.3) scale(0.877 1)" font-size="27.8" text-anchor="middle" font-weight="normal" fill="#000" >0.1</text>
<line x1="1518.8" y1="2427.5" x2="1518.8" y2="2445.2" stroke="#000" stroke-width="2" />
<text transform="translate(1523 2475.3) scale(0.877 1)" font-size="27.8" text-anchor="middle" font-weight="normal" fill="#000" >0.2</text>
<line x1="1648.6" y1="2422" x2="1648.6" y2="2439" stroke="#000" stroke-width="2" />
<text transform="translate(1653.4 2475.3) scale(0.877 1)" font-size="27.8" text-anchor="middle" font-weight="normal" fill="#000" >0.3</text>
<text transform="translate(1304.5 2471.8) scale(0.872 1)" font-size="25" text-anchor="start" font-weight="normal" fill="#000" >PCoA 1</text>
<text transform="translate(873 1992.4) rotate(-90) scale(1.04 1)" font-size="30" text-anchor="middle" font-weight="normal" fill="#000" >PCoA 2</text>
<text transform="translate(24.5 47.0) scale(1 1.03)" font-size="33.5" text-anchor="start" font-weight="bold" fill="#000" >A</text>
<text transform="translate(850.4 47.0) scale(1 1.03)" font-size="33.5" text-anchor="start" font-weight="bold" fill="#000" >B</text>
<text transform="translate(25.2 810.9) scale(1 1.03)" font-size="33.5" text-anchor="start" font-weight="bold" fill="#000" >C</text>
<text transform="translate(850.8 810.1) scale(1 1.03)" font-size="33.5" text-anchor="start" font-weight="bold" fill="#000" >D</text>
<text transform="translate(25.0 1572.2) scale(1 1.03)" font-size="33.5" text-anchor="start" font-weight="bold" fill="#000" >E</text>
<text transform="translate(850.0 1571.8) scale(1 1.03)" font-size="33.5" text-anchor="start" font-weight="bold" fill="#000" >F</text>
</svg>
</body></html>
